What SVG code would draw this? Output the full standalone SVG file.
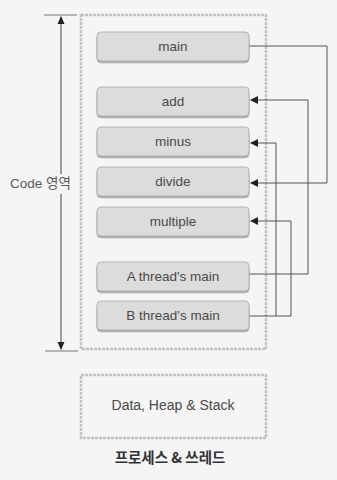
<svg xmlns="http://www.w3.org/2000/svg" width="337" height="480" viewBox="0 0 337 480">
<defs>
<marker id="arr" markerWidth="8" markerHeight="8" refX="7" refY="4" orient="auto" markerUnits="userSpaceOnUse">
<path d="M0,0 L8,4 L0,8 Z" fill="#222"/>
</marker>
<marker id="arrDim" markerWidth="8" markerHeight="8" refX="7" refY="4" orient="auto" markerUnits="userSpaceOnUse">
<path d="M0,0.5 L8,4 L0,7.5 Z" fill="#222"/>
</marker>
<filter id="sh" x="-5%" y="-10%" width="110%" height="130%">
<feDropShadow dx="0" dy="1.5" stdDeviation="0.6" flood-color="#777" flood-opacity="0.7"/>
</filter>
</defs>
<style>
.node rect{fill:#dcdcdc;stroke:#b4b4b4;stroke-width:1;}
.node text{font-family:"Liberation Sans",Arial,sans-serif;font-size:13.5px;fill:#4a4a4a;text-anchor:middle;}
.area{fill:none;stroke:#c2c2c2;stroke-width:2.5;stroke-dasharray:3 1;}
.conn{fill:none;stroke:#555;stroke-width:1;}
.lbl{font-family:"Liberation Sans","Noto Sans CJK KR",sans-serif;font-size:13.5px;fill:#5a5a5a;}
</style>
<rect width="337" height="480" fill="#f5f5f5"/>

<g id="code-area">
<rect class="area" x="81" y="15" width="185" height="334"/>
</g>

<g id="dimension">
<line x1="44" y1="15" x2="77" y2="15" stroke="#777" stroke-width="1.2"/>
<line x1="45" y1="351" x2="78" y2="351" stroke="#777" stroke-width="1.2"/>
<line x1="61" y1="174" x2="61" y2="17" stroke="#444" stroke-width="1" marker-end="url(#arrDim)"/>
<line x1="61" y1="194" x2="61" y2="349" stroke="#444" stroke-width="1" marker-end="url(#arrDim)"/>
<text class="lbl" x="10" y="188">Code 영역</text>
</g>

<g id="connectors">
<polyline class="conn" points="249,46 327,46 327,183 251,183" marker-end="url(#arr)"/>
<polyline class="conn" points="249,274 308,274 308,100 251,100" marker-end="url(#arr)"/>
<polyline class="conn" points="249,316 291,316 291,221 251,221" marker-end="url(#arr)"/>
<polyline class="conn" points="276,316 276,143 251,143" marker-end="url(#arr)"/>
</g>

<g id="main" class="node"><rect x="97" y="32" width="152" height="29" rx="4" filter="url(#sh)"/><text x="173" y="51">main</text></g>
<g id="add" class="node"><rect x="97" y="87" width="152" height="29" rx="4" filter="url(#sh)"/><text x="173" y="106">add</text></g>
<g id="minus" class="node"><rect x="97" y="127" width="152" height="29" rx="4" filter="url(#sh)"/><text x="173" y="146">minus</text></g>
<g id="divide" class="node"><rect x="97" y="167" width="152" height="29" rx="4" filter="url(#sh)"/><text x="173" y="186">divide</text></g>
<g id="multiple" class="node"><rect x="97" y="207" width="152" height="29" rx="4" filter="url(#sh)"/><text x="173" y="226">multiple</text></g>
<g id="a-thread-main" class="node"><rect x="97" y="262" width="152" height="29" rx="4" filter="url(#sh)"/><text x="173" y="281">A thread's main</text></g>
<g id="b-thread-main" class="node"><rect x="97" y="301" width="152" height="29" rx="4" filter="url(#sh)"/><text x="173" y="320">B thread's main</text></g>

<g id="data-heap-stack">
<rect class="area" x="81" y="375" width="185" height="63"/>
<text x="173" y="410" font-family="'Liberation Sans',Arial,sans-serif" font-size="14" fill="#4a4a4a" text-anchor="middle">Data, Heap &amp; Stack</text>
</g>

<g id="title">
<text x="170" y="463" font-family="'Noto Sans CJK KR','Liberation Sans',sans-serif" font-size="14.5" font-weight="bold" fill="#333" text-anchor="middle">프로세스 &amp; 쓰레드</text>
</g>
</svg>
